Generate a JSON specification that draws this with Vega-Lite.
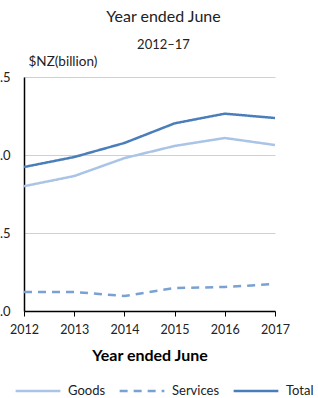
{
  "$schema": "https://vega.github.io/schema/vega-lite/v6.json",
  "width": 251,
  "height": 234,
  "autosize": "none",
  "padding": {"left": 24, "top": 77, "right": 43, "bottom": 87},
  "config": {
    "font": "Lato",
    "view": {"stroke": null}
  },
  "title": {
    "text": "Year ended June",
    "subtitle": "2012–17",
    "fontSize": 16,
    "fontWeight": "normal",
    "color": "#222",
    "subtitleFontSize": 13,
    "subtitleColor": "#222",
    "subtitlePadding": 14,
    "anchor": "middle",
    "frame": "group",
    "dx": 14,
    "offset": 2
  },
  "data": {
    "values": [
      {"year": 2012, "series": "Goods", "value": 0.80},
      {"year": 2013, "series": "Goods", "value": 0.865},
      {"year": 2014, "series": "Goods", "value": 0.98},
      {"year": 2015, "series": "Goods", "value": 1.058},
      {"year": 2016, "series": "Goods", "value": 1.109},
      {"year": 2017, "series": "Goods", "value": 1.064},
      {"year": 2012, "series": "Services", "value": 0.122},
      {"year": 2013, "series": "Services", "value": 0.122},
      {"year": 2014, "series": "Services", "value": 0.096},
      {"year": 2015, "series": "Services", "value": 0.147},
      {"year": 2016, "series": "Services", "value": 0.154},
      {"year": 2017, "series": "Services", "value": 0.173},
      {"year": 2012, "series": "Total", "value": 0.923},
      {"year": 2013, "series": "Total", "value": 0.987},
      {"year": 2014, "series": "Total", "value": 1.077},
      {"year": 2015, "series": "Total", "value": 1.203},
      {"year": 2016, "series": "Total", "value": 1.265},
      {"year": 2017, "series": "Total", "value": 1.237}
    ]
  },
  "mark": {"type": "line", "strokeWidth": 2.5},
  "encoding": {
    "x": {
      "field": "year",
      "type": "quantitative",
      "scale": {"domain": [2012, 2017], "nice": false, "zero": false},
      "axis": {
        "values": [2012, 2013, 2014, 2015, 2016, 2017],
        "format": "d",
        "title": "Year ended June",
        "titleFontSize": 16,
        "titleFontWeight": "bold",
        "titleColor": "#000",
        "titlePadding": 12,
        "labelFontSize": 12.5,
        "labelColor": "#222",
        "labelPadding": 7,
        "labelFlush": false,
        "labelOverlap": false,
        "grid": false,
        "domainColor": "#000",
        "domainWidth": 1.5,
        "tickColor": "#000",
        "tickSize": 5,
        "tickWidth": 1
      }
    },
    "y": {
      "field": "value",
      "type": "quantitative",
      "scale": {"domain": [0, 1.5], "nice": false},
      "axis": {
        "values": [0, 0.5, 1.0, 1.5],
        "format": ".1f",
        "title": "$NZ(billion)",
        "titleAngle": 0,
        "titleAlign": "left",
        "titleBaseline": "bottom",
        "titleX": 4,
        "titleY": -9,
        "titleFontSize": 13.5,
        "titleFontWeight": "normal",
        "titleColor": "#222",
        "labelFontSize": 13,
        "labelColor": "#222",
        "labelPadding": 14,
        "ticks": false,
        "grid": true,
        "gridColor": "#d0d0d0",
        "gridWidth": 1,
        "domainColor": "#000",
        "domainWidth": 1.5
      }
    },
    "color": {
      "field": "series",
      "type": "nominal",
      "scale": {"domain": ["Goods", "Services", "Total"], "range": ["#a9c4e6", "#7aa1d2", "#4a7ebb"]},
      "legend": {
        "title": null,
        "orient": "none",
        "direction": "horizontal",
        "legendX": -10,
        "legendY": 290,
        "symbolType": "stroke",
        "symbolSize": 2000,
        "symbolStrokeWidth": 2.5,
        "labelFontSize": 13,
        "labelColor": "#222",
        "columnPadding": 8,
        "labelOffset": 6
      }
    },
    "strokeDash": {
      "field": "series",
      "type": "nominal",
      "scale": {"domain": ["Goods", "Services", "Total"], "range": [[1, 0], [8, 6], [1, 0]]},
      "legend": {
        "title": null,
        "orient": "none",
        "direction": "horizontal",
        "legendX": -10,
        "legendY": 290,
        "symbolType": "stroke",
        "symbolSize": 2000,
        "symbolStrokeWidth": 2.5,
        "labelFontSize": 13,
        "labelColor": "#222",
        "columnPadding": 8,
        "labelOffset": 6
      }
    }
  }
}
